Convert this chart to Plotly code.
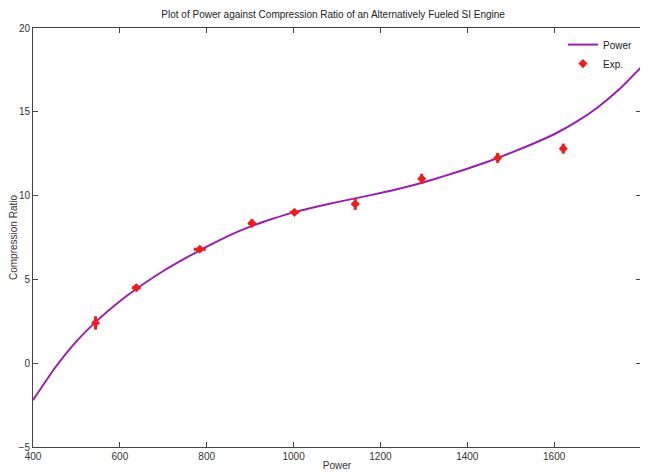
import plotly.graph_objects as go

# Fitted curve
curve_power = [400, 450, 500, 550, 600, 650, 700, 750, 800, 850, 900, 950, 1000,
               1050, 1100, 1150, 1200, 1250, 1300, 1350, 1400, 1450, 1500, 1550,
               1600, 1650, 1700, 1750, 1800]
curve_cr = [-2.2, -0.3, 1.3, 2.6, 3.7, 4.65, 5.5, 6.25, 6.95, 7.6, 8.15, 8.6, 9.0,
            9.32, 9.61, 9.88, 10.15, 10.45, 10.8, 11.19, 11.6, 12.05, 12.55, 13.08,
            13.66, 14.38, 15.26, 16.34, 17.65]

# Experimental points
exp_power = [544, 638, 784, 904, 1002, 1142, 1295, 1470, 1621]
exp_cr = [2.4, 4.5, 6.8, 8.35, 9.0, 9.5, 11.0, 12.25, 12.8]
exp_err_y = [0.4, 0.2, 0.12, 0.25, 0.15, 0.35, 0.3, 0.3, 0.3]
exp_err_x = [4, 10, 14, 8, 10, 8, 4, 6, 6]

font_family = "Liberation Sans, Arial"

fig = go.Figure()
fig.add_trace(go.Scatter(
    x=curve_power, y=curve_cr, mode="lines", name="Power",
    line=dict(color="#9a1fae", width=2, shape="spline", smoothing=0.5),
))
fig.add_trace(go.Scatter(
    x=exp_power, y=exp_cr, mode="markers", name="Exp.",
    marker=dict(symbol="diamond", color="#f01c1c", size=7),
    error_y=dict(type="data", array=exp_err_y, color="#f01c1c", thickness=3, width=0),
    error_x=dict(type="data", array=exp_err_x, color="#f01c1c", thickness=3, width=0),
))

axis_common = dict(
    showgrid=False, zeroline=False, showline=True, linecolor="#444444", linewidth=1,
    mirror="allticks", ticks="inside", ticklen=5, tickcolor="#444444",
    automargin=False,
    tickfont=dict(family=font_family, size=10, color="#333333"),
)

fig.update_layout(
    width=640, height=467,
    margin=dict(l=25, r=7, t=20, b=28),
    paper_bgcolor="white", plot_bgcolor="white",
    title=dict(text="Plot of Power against Compression Ratio of an Alternatively Fueled SI Engine",
               x=0.508, xanchor="center", y=0.986, yanchor="middle",
               font=dict(family=font_family, size=10, color="#222222")),
    xaxis=dict(range=[400, 1800], tickvals=[400, 600, 800, 1000, 1200, 1400, 1600, 1800],
               title=dict(text="Power", standoff=0,
                          font=dict(family=font_family, size=10, color="#333333")),
               **axis_common),
    yaxis=dict(range=[-5, 20], tickvals=[-5, 0, 5, 10, 15, 20],
               title=dict(text="Compression Ratio", standoff=2,
                          font=dict(family=font_family, size=10, color="#333333")),
               **axis_common),
    legend=dict(x=0.995, y=0.995, xanchor="right", yanchor="top",
                bgcolor="rgba(255,255,255,0)", borderwidth=0,
                font=dict(family=font_family, size=10, color="#222222"),
                itemwidth=30),
    showlegend=True,
)

fig.write_html("out.html")
